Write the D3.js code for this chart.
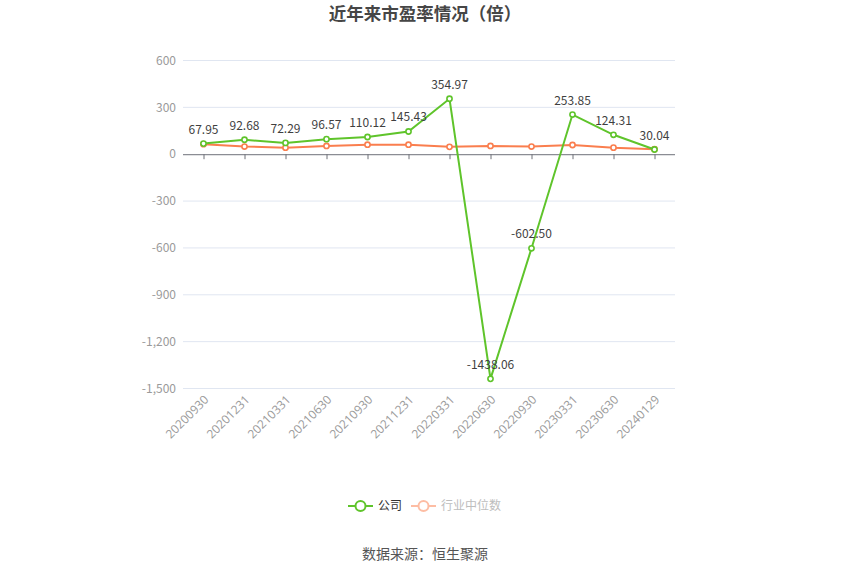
<!DOCTYPE html>
<html>
<head>
<meta charset="utf-8">
<script src="https://cdn.jsdelivr.net/npm/d3@7"></script>
<style>
  body { margin: 0; background: #fff; }
  svg { font-family: "Noto Sans CJK SC", "Noto Sans", sans-serif; }
</style>
</head>
<body>
<script>
const dates = ["20200930", "20201231", "20210331", "20210630", "20210930", "20211231",
  "20220331", "20220630", "20220930", "20230331", "20230630", "20240129"];
const company = [67.95, 92.68, 72.29, 96.57, 110.12, 145.43, 354.97, -1438.06, -602.50, 253.85, 124.31, 30.04];
const industry = [64, 49, 42, 53, 61, 61, 47, 53, 49, 59, 42, 32];
const yTicks = [600, 300, 0, -300, -600, -900, -1200, -1500];

const w = 850;
const h = 575;
const plotLeft = 183, plotRight = 675, plotTop = 60.5, plotBottom = 388.5;
const green = "#5fc42b";
const orange = "#fa7e4e";

const svg = d3.select("body")
  .append("svg")
  .attr("width", w)
  .attr("height", h);

// title
svg.append("text")
  .text("近年来市盈率情况（倍）")
  .attr("x", w / 2)
  .attr("y", 20)
  .attr("text-anchor", "middle")
  .style("font-size", "17.5px")
  .style("font-weight", "bold")
  .style("fill", "#464646");

const x = d3.scalePoint()
  .domain(dates)
  .range([plotLeft, plotRight])
  .padding(0.5);

const y = d3.scaleLinear()
  .domain([-1500, 600])
  .range([plotBottom, plotTop]);

// grid lines
svg.selectAll(".grid")
  .data(yTicks.filter(d => d !== 0))
  .join("line")
  .attr("class", "grid")
  .attr("x1", plotLeft)
  .attr("x2", plotRight)
  .attr("y1", d => y(d))
  .attr("y2", d => y(d))
  .style("stroke", "#e0e6f1")
  .style("stroke-width", 1);

// y labels
svg.selectAll(".ylab")
  .data(yTicks)
  .join("text")
  .attr("class", "ylab")
  .text(d => d3.format(",")(d).replace("−", "-"))
  .attr("x", plotLeft - 7)
  .attr("y", d => y(d))
  .attr("dy", "0.35em")
  .attr("text-anchor", "end")
  .style("font-size", "12px")
  .style("fill", "#9a9a9a");

// x axis line at zero
const xAxis = d3.axisBottom(x).tickSize(5).tickFormat("");
const gx = svg.append("g")
  .attr("transform", `translate(0,${y(0)})`)
  .call(xAxis);
gx.select(".domain").attr("d", `M${plotLeft},0.5H${plotRight}`).style("stroke", "#6e7079");
gx.selectAll(".tick line").style("stroke", "#6e7079");

// x labels at bottom, rotated
svg.selectAll(".xlab")
  .data(dates)
  .join("text")
  .attr("class", "xlab")
  .text(d => d)
  .attr("transform", d => `translate(${x(d) + 3},${plotBottom + 9}) rotate(-45)`)
  .attr("text-anchor", "end")
  .attr("dy", "0.35em")
  .style("font-family", "'Open Sans', sans-serif")
  .style("font-size", "12px")
  .style("fill", "#9a9a9a");

const line = d3.line()
  .x((d, i) => x(dates[i]))
  .y(d => y(d));

function drawSeries(values, color) {
  svg.append("path")
    .datum(values)
    .attr("d", line)
    .style("fill", "none")
    .style("stroke", color)
    .style("stroke-width", 2);
  svg.append("g")
    .selectAll("circle")
    .data(values)
    .join("circle")
    .attr("cx", (d, i) => x(dates[i]))
    .attr("cy", d => y(d))
    .attr("r", 2.6)
    .style("fill", "#fff")
    .style("stroke", color)
    .style("stroke-width", 1.6);
}

drawSeries(industry, orange);
drawSeries(company, green);

// labels
svg.selectAll(".vlab")
  .data(company)
  .join("text")
  .attr("class", "vlab")
  .text(d => d.toFixed(2))
  .attr("x", (d, i) => x(dates[i]))
  .attr("y", d => y(d) - 10)
  .attr("text-anchor", "middle")
  .style("font-size", "12px")
  .style("fill", "#3f3f3f");

// legend
const legend = [
  { name: "公司", color: green, text: "#333", x: 348 },
  { name: "行业中位数", color: "#fdbda4", text: "#bdbdbd", x: 411 }
];
const lg = svg.selectAll(".leg")
  .data(legend)
  .join("g")
  .attr("class", "leg")
  .attr("transform", d => `translate(${d.x},506)`);
lg.append("line")
  .attr("x1", 0).attr("x2", 25)
  .style("stroke", d => d.color)
  .style("stroke-width", 2);
lg.append("circle")
  .attr("cx", 12.5)
  .attr("r", 5)
  .style("fill", "#fff")
  .style("stroke", d => d.color)
  .style("stroke-width", 2);
lg.append("text")
  .text(d => d.name)
  .attr("x", 30)
  .attr("dy", "0.35em")
  .style("font-size", "12px")
  .style("fill", d => d.text);

// source
svg.append("text")
  .text("数据来源：恒生聚源")
  .attr("x", w / 2)
  .attr("y", 559)
  .attr("text-anchor", "middle")
  .style("font-size", "14px")
  .style("fill", "#555");
</script>
</body>
</html>
